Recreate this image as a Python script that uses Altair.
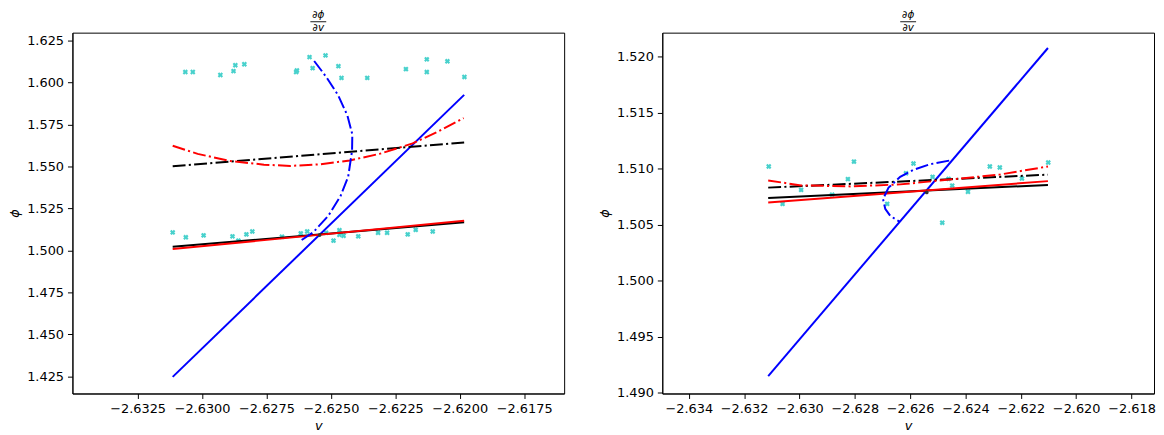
import altair as alt
import pandas as pd

# ---------------- data: left panel ----------------
L_TOP_V = [-2.63065, -2.63036, -2.62929, -2.62878, -2.62871, -2.62836, -2.62635, -2.62632,
           -2.62583, -2.62571, -2.62521, -2.62471, -2.62459, -2.62359, -2.62209, -2.62128,
           -2.62128, -2.62048, -2.61982]
L_TOP_PHI = [1.60618, 1.60620, 1.60444, 1.60677, 1.61026, 1.61084, 1.60618, 1.60712,
             1.61510, 1.60851, 1.61609, 1.60968, 1.60269, 1.60269, 1.60793, 1.61376,
             1.60618, 1.61259, 1.60327]
L_BOT_V = [-2.63114, -2.63063, -2.62994, -2.62882, -2.62859, -2.62828, -2.62805, -2.62690,
           -2.62617, -2.62592, -2.62519, -2.62490, -2.62467, -2.62467, -2.62451, -2.62394,
           -2.62317, -2.62282, -2.62202, -2.62171, -2.62105]
L_BOT_PHI = [1.51065, 1.50774, 1.50890, 1.50832, 1.50576, 1.50949, 1.51123, 1.50809,
             1.51007, 1.51123, 1.51042, 1.50576, 1.51199, 1.50925, 1.50867, 1.50832,
             1.51042, 1.51042, 1.50949, 1.51217, 1.51123]

L_LINE_V = [-2.63114, -2.61983]
L_BLUE_PHI = [1.42461, 1.59258]
L_BLACK_PHI = [1.50209, 1.51665]
L_RED_PHI = [1.50075, 1.51764]
L_BLACK_DD_PHI = [1.55003, 1.56424]

L_RED_DD_V = [-2.63114, -2.63017, -2.62889, -2.62760, -2.62658, -2.62542, -2.62427,
              -2.62312, -2.62183, -2.62081, -2.61985]
L_RED_DD_PHI = [1.56226, 1.55743, 1.55318, 1.55102, 1.55026, 1.55120, 1.55353,
                1.55743, 1.56366, 1.57100, 1.57881]

L_BLUE_DD_V = [-2.62565, -2.62517, -2.62472, -2.62436, -2.62417, -2.62418, -2.62433,
               -2.62463, -2.62510, -2.62568, -2.62619]
L_BLUE_DD_PHI = [1.61277, 1.60304, 1.59238, 1.58026, 1.56908, 1.55935, 1.54386,
                 1.53221, 1.52055, 1.51083, 1.50558]

L_MARK_V = [-2.62544]
L_MARK_PHI = [1.50908]

L_XTICKS = [-2.6325, -2.6300, -2.6275, -2.6250, -2.6225, -2.6200, -2.6175]
L_YTICKS = [1.425, 1.450, 1.475, 1.500, 1.525, 1.550, 1.575, 1.600, 1.625]
L_XDOM = [-2.63503, -2.61595]
L_YDOM = [1.41469, 1.62966]

# ---------------- data: right panel ----------------
R_V = [-2.63111, -2.63061, -2.62994, -2.62882, -2.62825, -2.62803, -2.62683, -2.62615,
       -2.62588, -2.62519, -2.62484, -2.62461, -2.62448, -2.62391, -2.62312, -2.62276,
       -2.62196, -2.62101]
R_PHI = [1.51021, 1.50687, 1.50812, 1.50769, 1.50908, 1.51064, 1.50687, 1.50960,
         1.51047, 1.50928, 1.50519, 1.50910, 1.50850, 1.50795, 1.51021, 1.51012,
         1.50913, 1.51056]

R_LINE_V = [-2.63113, -2.62102]
R_BLUE_PHI = [1.49151, 1.52078]
R_BLACK_PHI = [1.50739, 1.50856]
R_RED_PHI = [1.50699, 1.50890]
R_BLACK_DD_PHI = [1.50832, 1.50948]

R_RED_DD_V = [-2.63113, -2.62994, -2.62815, -2.62636, -2.62457, -2.62278, -2.62102]
R_RED_DD_PHI = [1.50896, 1.50852, 1.50843, 1.50861, 1.50904, 1.50948, 1.51021]

R_BLUE_DD_V = [-2.62459, -2.62528, -2.62588, -2.62636, -2.62678, -2.62698, -2.62690,
               -2.62672, -2.62638]
R_BLUE_DD_PHI = [1.51073, 1.51041, 1.50991, 1.50928, 1.50832, 1.50730, 1.50643,
                 1.50580, 1.50528]

R_MARK_V = [-2.62540]
R_MARK_PHI = [1.50789]

R_XTICKS = [-2.634, -2.632, -2.630, -2.628, -2.626, -2.624, -2.622, -2.620, -2.618]
R_YTICKS = [1.490, 1.495, 1.500, 1.505, 1.510, 1.515, 1.520]
R_XDOM = [-2.634957, -2.617187]
R_YDOM = [1.48995, 1.52215]

TITLE_NUM = "\u2202\u03d5"
TITLE_DEN = "\u2202v"

# ---------------- styles ----------------
BLUE = "#0000ff"
RED = "#ff0000"
BLACK = "#000000"
CYAN = "#48d1cc"
DASHDOT = [13, 3.3, 2.1, 3.3]
LW = 2
W, H = 496, 364


def df(v, phi):
    return pd.DataFrame({"v": v, "phi": phi, "i": list(range(len(v)))})


def panel(xdom, ydom, xticks, yticks, xfmt, yfmt, pts, lines, mark):
    X = alt.X("v:Q", scale=alt.Scale(domain=xdom, nice=False, zero=False),
              axis=alt.Axis(values=xticks, title="v",
                            labelExpr=f"replace(format(datum.value, '{xfmt}'), '-', '\u2212')"))
    Y = alt.Y("phi:Q", scale=alt.Scale(domain=ydom, nice=False, zero=False),
              axis=alt.Axis(values=yticks, title="\u03d5",
                            labelExpr=f"replace(format(datum.value, '{yfmt}'), '-', '\u2212')"))
    layers = []
    for (v, phi) in pts:
        layers.append(
            alt.Chart(df(v, phi)).mark_point(shape="cross", angle=45, filled=True, size=30,
                                             color=CYAN, opacity=1).encode(x=X, y=Y))
    for (v, phi, color, dash) in lines:
        kw = dict(color=color, strokeWidth=LW, clip=True)
        if dash:
            kw["strokeDash"] = DASHDOT
        layers.append(alt.Chart(df(v, phi)).mark_line(**kw).encode(x=X, y=Y, order="i:Q"))
    layers.append(
        alt.Chart(df(mark[0], mark[1])).mark_point(shape="circle", filled=True, size=14,
                                                   color="#333333", opacity=1).encode(x=X, y=Y))
    # title drawn as a small fraction above the plot
    one = pd.DataFrame({"a": [0]})
    tstyle = dict(font="DejaVu Sans", fontStyle="italic", fontSize=10.5, color=BLACK,
                  align="center", baseline="alphabetic")
    layers.append(alt.Chart(one).mark_text(text=TITLE_NUM, **tstyle).encode(
        x=alt.value(W / 2), y=alt.value(-14.5)))
    layers.append(alt.Chart(one).mark_text(text=TITLE_DEN, **tstyle).encode(
        x=alt.value(W / 2), y=alt.value(-1.5)))
    layers.append(alt.Chart(one).mark_rule(color=BLACK, strokeWidth=0.9).encode(
        x=alt.value(W / 2 - 8), x2=alt.value(W / 2 + 8), y=alt.value(-11)))
    return alt.layer(*layers).properties(width=W, height=H)


left = panel(L_XDOM, L_YDOM, L_XTICKS, L_YTICKS, ".4f", ".3f",
             [(L_TOP_V, L_TOP_PHI), (L_BOT_V, L_BOT_PHI)],
             [(L_LINE_V, L_BLUE_PHI, BLUE, False),
              (L_LINE_V, L_BLACK_PHI, BLACK, False),
              (L_LINE_V, L_RED_PHI, RED, False),
              (L_LINE_V, L_BLACK_DD_PHI, BLACK, True),
              (L_RED_DD_V, L_RED_DD_PHI, RED, True),
              (L_BLUE_DD_V, L_BLUE_DD_PHI, BLUE, True)],
             (L_MARK_V, L_MARK_PHI))

right = panel(R_XDOM, R_YDOM, R_XTICKS, R_YTICKS, ".3f", ".3f",
              [(R_V, R_PHI)],
              [(R_LINE_V, R_BLUE_PHI, BLUE, False),
               (R_LINE_V, R_BLACK_PHI, BLACK, False),
               (R_LINE_V, R_RED_PHI, RED, False),
               (R_LINE_V, R_BLACK_DD_PHI, BLACK, True),
               (R_RED_DD_V, R_RED_DD_PHI, RED, True),
               (R_BLUE_DD_V, R_BLUE_DD_PHI, BLUE, True)],
              (R_MARK_V, R_MARK_PHI))

chart = alt.hconcat(left, right, spacing=33).properties(
    padding={"left": 0, "top": 0, "right": 0, "bottom": 0}
).configure_view(
    stroke=BLACK, strokeWidth=1
).configure_axis(
    grid=False, domain=True, domainColor=BLACK, domainWidth=1,
    ticks=True, tickColor=BLACK, tickSize=5, tickWidth=1,
    labelFont="DejaVu Sans", labelFontSize=13, labelColor=BLACK, labelPadding=4,
    labelFlush=False, labelOverlap=False,
    titleFont="DejaVu Sans", titleFontSize=13, titleFontStyle="italic",
    titleFontWeight="normal", titleColor=BLACK, titlePadding=6
).configure_axisX(titlePadding=4).configure_axisY(titlePadding=5)

chart.save("out.html", embed_options={"renderer": "svg", "actions": False})
